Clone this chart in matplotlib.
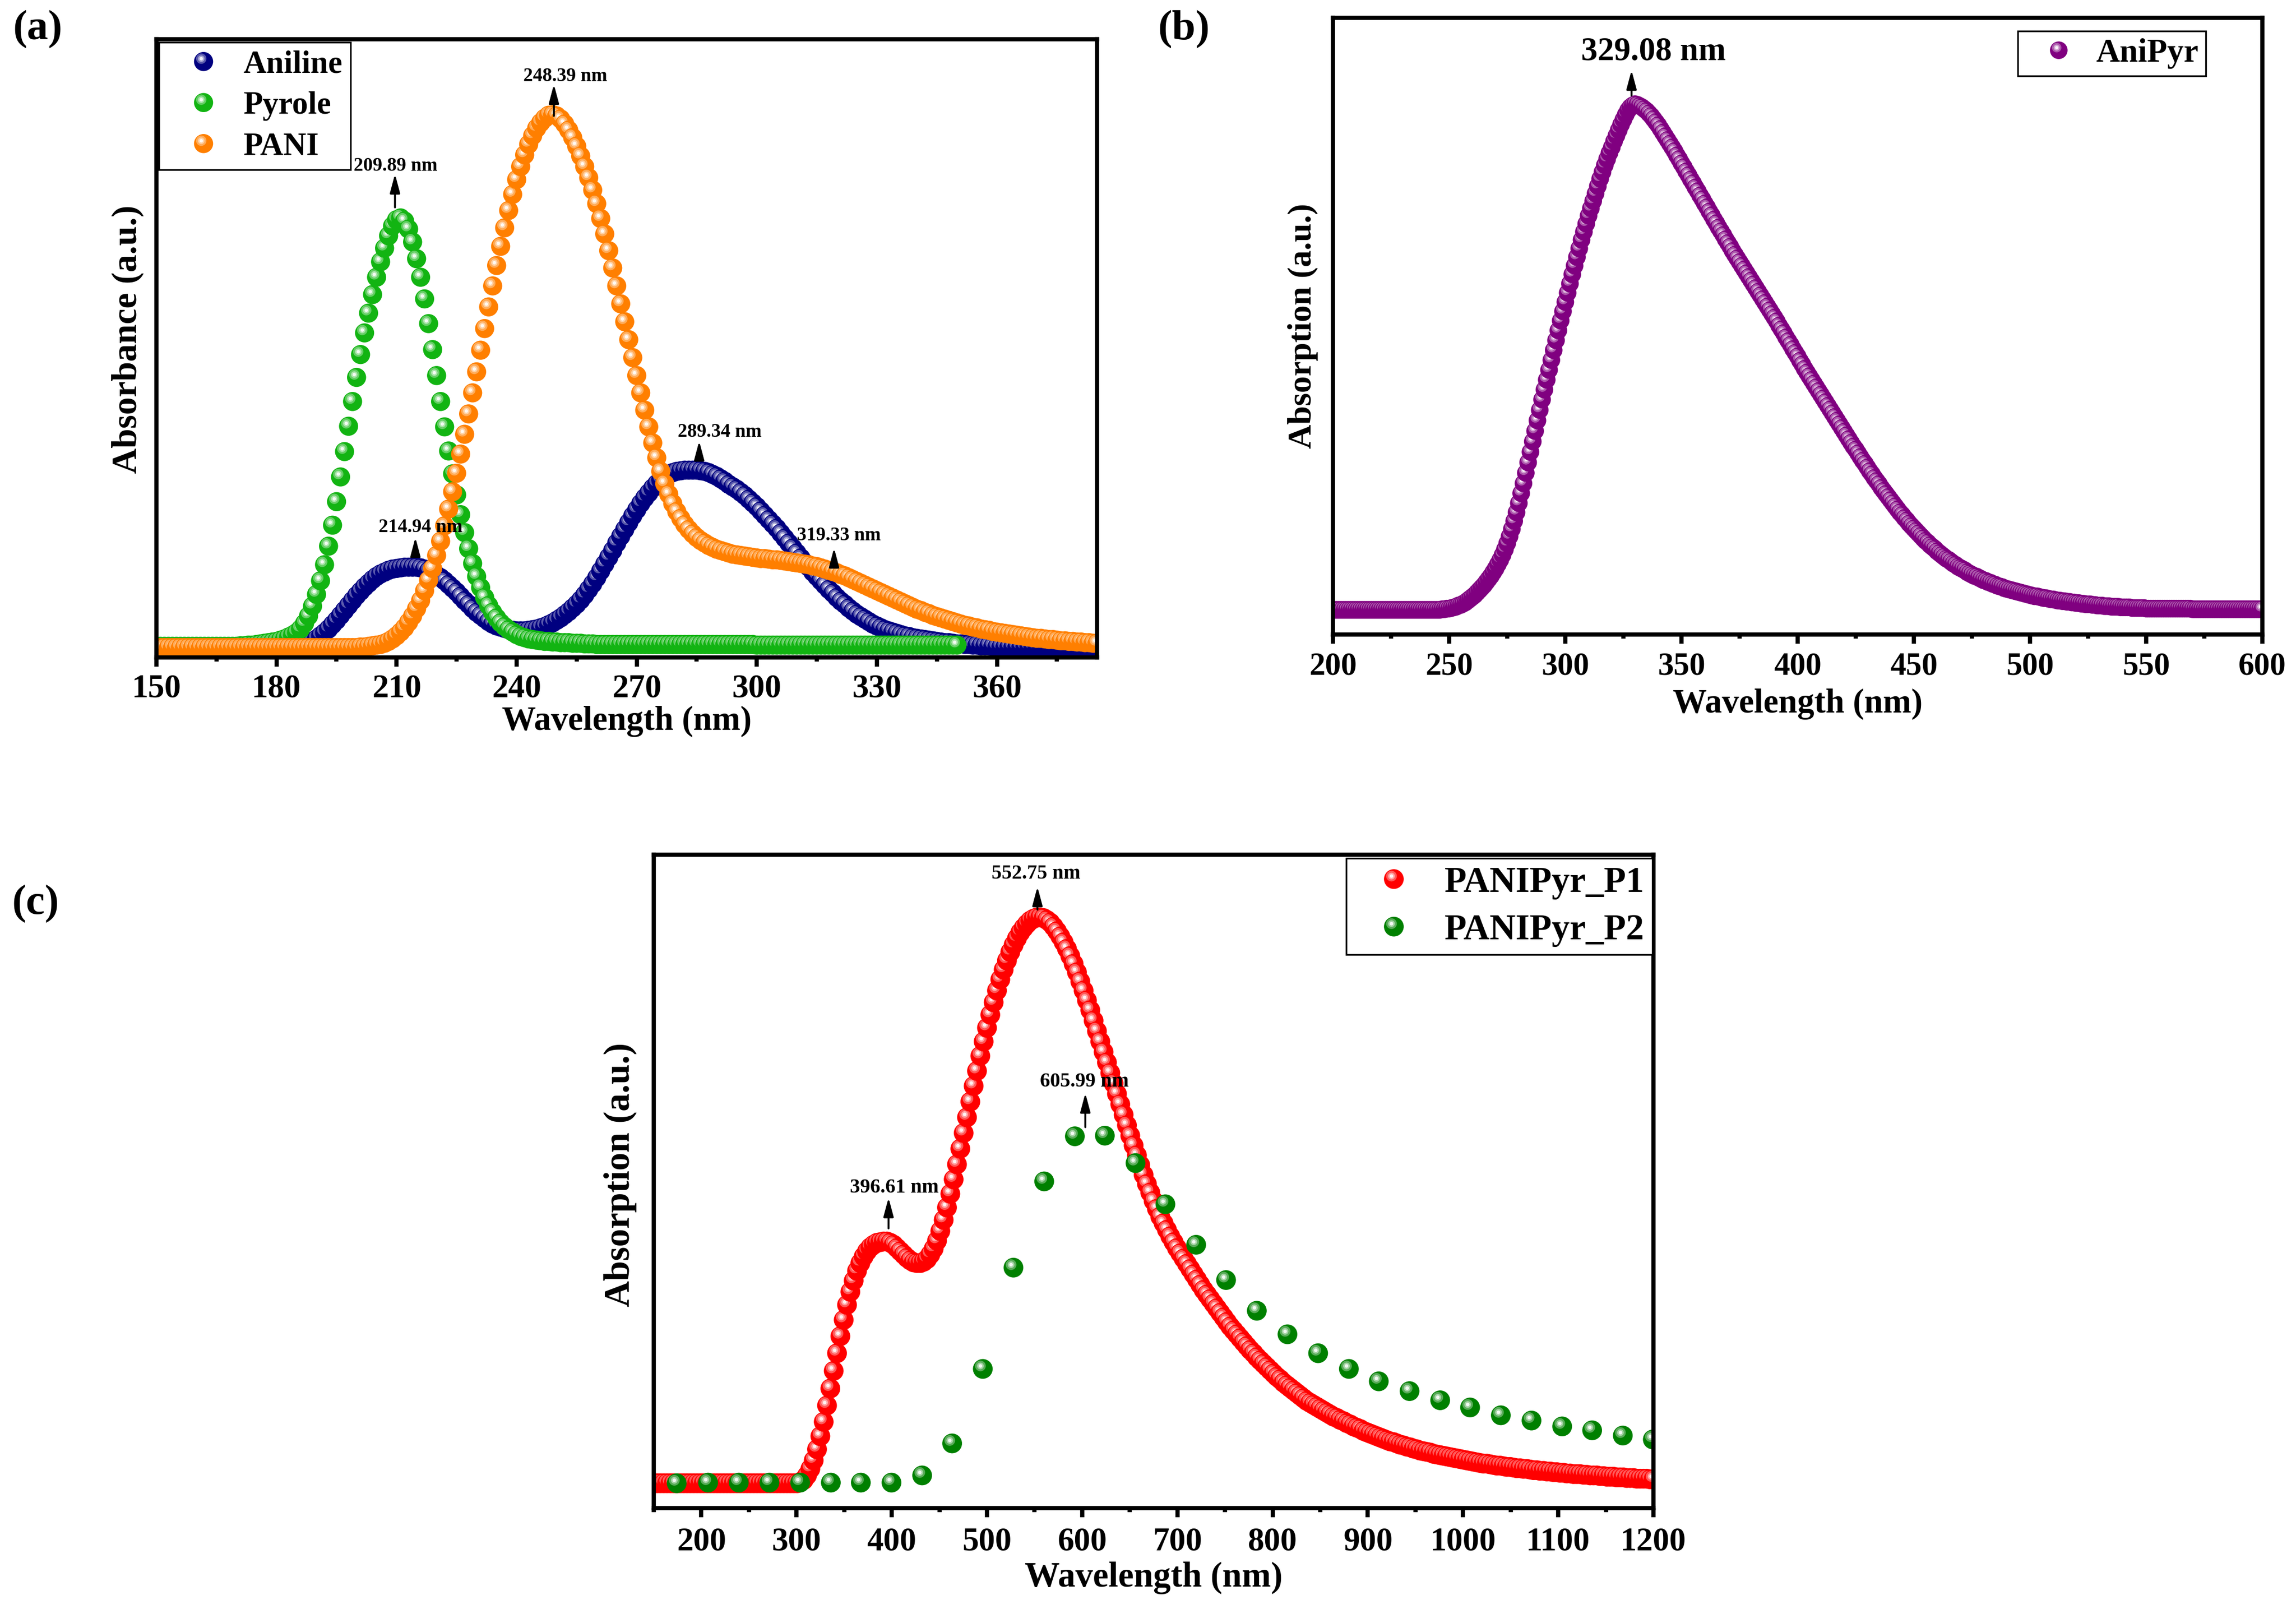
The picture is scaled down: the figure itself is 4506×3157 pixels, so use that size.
import numpy as np
import matplotlib
matplotlib.use('Agg')
import matplotlib.pyplot as plt
import matplotlib.colors as mcolors
from matplotlib.path import Path
from matplotlib.collections import PathCollection
from matplotlib.legend_handler import HandlerBase
from matplotlib.transforms import IdentityTransform
from matplotlib.ticker import MultipleLocator

plt.rcParams['font.family'] = ['Liberation Serif', 'DejaVu Serif']
plt.rcParams['font.weight'] = 'bold'
plt.rcParams['axes.labelweight'] = 'bold'

# ---------------- DATA (y as fraction of axis height) ----------------
# panel (a): 1 nm steps starting at 150 nm
a_start = 150
aniline = ([0.016] * 35 +
    [0.017, 0.018, 0.020, 0.023, 0.026] +
    [0.030, 0.035, 0.040, 0.046, 0.053, 0.060, 0.068, 0.076, 0.084, 0.092] +  # 190
    [0.100, 0.107, 0.114, 0.120, 0.126, 0.131, 0.135, 0.138, 0.141, 0.143] +  # 200
    [0.144, 0.145, 0.146, 0.146, 0.146, 0.146, 0.145, 0.143, 0.140, 0.137] +  # 210
    [0.133, 0.129, 0.124, 0.118, 0.112, 0.106, 0.099, 0.092, 0.086, 0.079] +  # 220
    [0.073, 0.068, 0.063, 0.058, 0.054, 0.051, 0.049, 0.047, 0.045, 0.044] +  # 230
    [0.043, 0.043, 0.043, 0.044, 0.045, 0.046, 0.048, 0.050, 0.053, 0.056] +  # 240
    [0.060, 0.064, 0.069, 0.074, 0.080, 0.086, 0.093, 0.101, 0.110, 0.119] +  # 250
    [0.129, 0.140, 0.151, 0.162, 0.173, 0.185, 0.196, 0.207, 0.218, 0.229] +  # 260
    [0.239, 0.249, 0.258, 0.266, 0.274, 0.281, 0.287, 0.292, 0.296, 0.299] +  # 270
    [0.301, 0.302, 0.303, 0.303, 0.303, 0.303, 0.302, 0.301, 0.299, 0.296] +  # 280
    [0.293, 0.289, 0.285, 0.280, 0.276, 0.272, 0.267, 0.262, 0.256, 0.250] +  # 290
    [0.244, 0.237, 0.230, 0.223, 0.216, 0.209, 0.201, 0.193, 0.185, 0.177] +  # 300
    [0.169, 0.161, 0.153, 0.146, 0.138, 0.131, 0.124, 0.117, 0.110, 0.104] +  # 310
    [0.097, 0.091, 0.086, 0.080, 0.075, 0.070, 0.066, 0.062, 0.058, 0.054] +  # 320
    [0.051, 0.048, 0.045, 0.043, 0.041, 0.039, 0.037, 0.035, 0.034, 0.032] +  # 330
    [0.031, 0.030, 0.029, 0.028, 0.027, 0.026, 0.025, 0.024, 0.024, 0.023] +  # 340
    [0.022, 0.022, 0.021, 0.021, 0.020, 0.020, 0.019, 0.019, 0.019, 0.018] +  # 350
    [0.017] * 26)

pyrole = ([0.018] * 20 +
    [0.018, 0.019, 0.019, 0.020, 0.020, 0.021, 0.022, 0.023, 0.024, 0.025] +  # 170
    [0.026, 0.028, 0.030, 0.033, 0.036, 0.040, 0.046, 0.055, 0.067, 0.083] +  # 180
    [0.102, 0.124, 0.150, 0.180, 0.214, 0.252, 0.292, 0.333, 0.374, 0.414] +  # 190
    [0.453, 0.490, 0.525, 0.557, 0.587, 0.615, 0.640, 0.662, 0.682, 0.698] +  # 200
    [0.708, 0.711, 0.706, 0.693, 0.672, 0.645, 0.615, 0.580, 0.540, 0.498] +  # 210
    [0.456, 0.414, 0.373, 0.334, 0.297, 0.263, 0.231, 0.202, 0.176, 0.152] +  # 220
    [0.131, 0.113, 0.097, 0.084, 0.073, 0.064, 0.056, 0.050, 0.045, 0.041] +  # 230
    [0.037, 0.034, 0.032, 0.030, 0.029, 0.028, 0.027, 0.026, 0.026, 0.025] +  # 240
    [0.025, 0.024, 0.024, 0.024, 0.023, 0.023, 0.023, 0.022, 0.022, 0.022] +  # 250
    [0.021] * 40 + [0.020] * 51)

pani = ([0.016] * 50 +
    [0.016, 0.017, 0.017, 0.018, 0.019, 0.020, 0.021, 0.023, 0.026, 0.030] +  # 200
    [0.035, 0.041, 0.048, 0.057, 0.067, 0.079, 0.092, 0.108, 0.125, 0.144] +  # 210
    [0.165, 0.188, 0.213, 0.240, 0.268, 0.298, 0.329, 0.361, 0.394, 0.428] +  # 220
    [0.462, 0.497, 0.532, 0.567, 0.601, 0.634, 0.665, 0.695, 0.723, 0.749] +  # 230
    [0.773, 0.794, 0.813, 0.830, 0.844, 0.856, 0.865, 0.872, 0.877, 0.878] +  # 240
    [0.876, 0.871, 0.863, 0.853, 0.841, 0.827, 0.811, 0.794, 0.776, 0.756] +  # 250
    [0.734, 0.710, 0.685, 0.658, 0.630, 0.601, 0.572, 0.543, 0.514, 0.485] +  # 260
    [0.456, 0.428, 0.400, 0.373, 0.347, 0.323, 0.301, 0.281, 0.264, 0.249] +  # 270
    [0.236, 0.225, 0.215, 0.207, 0.200, 0.194, 0.189, 0.185, 0.181, 0.178] +  # 280
    [0.175, 0.173, 0.171, 0.169, 0.167, 0.166, 0.165, 0.164, 0.163, 0.162] +  # 290
    [0.161, 0.160, 0.160, 0.159, 0.158, 0.158, 0.157, 0.156, 0.155, 0.154] +  # 300
    [0.153, 0.152, 0.151, 0.150, 0.148, 0.147, 0.145, 0.143, 0.141, 0.139] +  # 310
    [0.137, 0.134, 0.132, 0.129, 0.126, 0.123, 0.120, 0.117, 0.114, 0.111] +  # 320
    [0.108, 0.105, 0.102, 0.099, 0.096, 0.093, 0.090, 0.087, 0.084, 0.081] +  # 330
    [0.078, 0.076, 0.073, 0.071, 0.068, 0.066, 0.064, 0.062, 0.060, 0.058] +  # 340
    [0.056, 0.054, 0.052, 0.051, 0.049, 0.048, 0.046, 0.045, 0.044, 0.042] +  # 350
    [0.041, 0.040, 0.039, 0.038, 0.037, 0.036, 0.035, 0.034, 0.033, 0.032] +  # 360
    [0.031, 0.031, 0.030, 0.029, 0.029, 0.028, 0.027, 0.027, 0.026, 0.026] +  # 370
    [0.025, 0.025, 0.024, 0.024, 0.023, 0.023])

# panel (b): 1 nm steps starting at 200 nm
b_start = 200
anipyr = ([0.040] * 46 +
    [0.040, 0.041, 0.041, 0.042] +
    [0.042, 0.043, 0.044, 0.045, 0.047, 0.048, 0.050, 0.052, 0.055, 0.058] +  # 250
    [0.061, 0.064, 0.068, 0.072, 0.076, 0.080, 0.085, 0.090, 0.095, 0.101] +  # 260
    [0.107, 0.114, 0.121, 0.129, 0.138, 0.148, 0.159, 0.171, 0.184, 0.198] +  # 270
    [0.213, 0.229, 0.245, 0.262, 0.279, 0.296, 0.313, 0.330, 0.347, 0.364] +  # 280
    [0.381, 0.397, 0.413, 0.429, 0.445, 0.461, 0.477, 0.493, 0.509, 0.524] +  # 290
    [0.539, 0.554, 0.569, 0.584, 0.598, 0.612, 0.626, 0.640, 0.653, 0.666] +  # 300
    [0.679, 0.691, 0.703, 0.715, 0.727, 0.739, 0.750, 0.761, 0.771, 0.781] +  # 310
    [0.790, 0.800, 0.809, 0.818, 0.827, 0.835, 0.843, 0.850, 0.855, 0.858] +  # 320
    [0.860, 0.859, 0.857, 0.855, 0.852, 0.849, 0.845, 0.841, 0.836, 0.831] +  # 330
    [0.826, 0.820, 0.814, 0.808, 0.802, 0.796, 0.790, 0.784, 0.777, 0.771] +  # 340
    [0.764, 0.758, 0.751, 0.745, 0.738, 0.732, 0.725, 0.719, 0.712, 0.706] +  # 350
    [0.699, 0.693, 0.686, 0.680, 0.673, 0.667, 0.660, 0.654, 0.648, 0.641] +  # 360
    [0.635, 0.629, 0.622, 0.616, 0.610, 0.604, 0.598, 0.592, 0.586, 0.580] +  # 370
    [0.574, 0.568, 0.562, 0.556, 0.550, 0.544, 0.538, 0.532, 0.526, 0.520] +  # 380
    [0.514, 0.508, 0.501, 0.495, 0.489, 0.482, 0.476, 0.470, 0.463, 0.457] +  # 390
    [0.451, 0.444, 0.438, 0.431, 0.425, 0.419, 0.413, 0.407, 0.401, 0.395] +  # 400
    [0.389, 0.383, 0.377, 0.371, 0.365, 0.359, 0.353, 0.347, 0.341, 0.335] +  # 410
    [0.329, 0.323, 0.317, 0.311, 0.305, 0.300, 0.294, 0.288, 0.282, 0.277] +  # 420
    [0.271, 0.265, 0.260, 0.254, 0.249, 0.244, 0.238, 0.233, 0.228, 0.223] +  # 430
    [0.218, 0.213, 0.208, 0.203, 0.198, 0.194, 0.189, 0.185, 0.180, 0.176] +  # 440
    [0.172, 0.168, 0.164, 0.160, 0.156, 0.152, 0.149, 0.145, 0.142, 0.139] +  # 450
    [0.135, 0.132, 0.129, 0.126, 0.123, 0.121, 0.118, 0.115, 0.113, 0.110] +  # 460
    [0.108, 0.106, 0.104, 0.101, 0.099, 0.097, 0.095, 0.094, 0.092, 0.090] +  # 470
    [0.088, 0.087, 0.085, 0.084, 0.082, 0.081, 0.079, 0.078, 0.077, 0.075] +  # 480
    [0.074, 0.073, 0.072, 0.071, 0.070, 0.069, 0.068, 0.067, 0.066, 0.065] +  # 490
    [0.064, 0.063, 0.062, 0.062, 0.061, 0.060, 0.059, 0.059, 0.058, 0.057] +  # 500
    [0.057, 0.056, 0.055, 0.055, 0.054, 0.054, 0.053, 0.053, 0.052, 0.052] +  # 510
    [0.051, 0.051, 0.050, 0.050, 0.049, 0.049, 0.049, 0.048, 0.048, 0.047] +  # 520
    [0.047, 0.047, 0.046, 0.046, 0.046, 0.045, 0.045, 0.045, 0.045, 0.044] +  # 530
    [0.044, 0.044, 0.044, 0.044, 0.043, 0.043, 0.043, 0.043, 0.043, 0.043] +  # 540
    [0.042] * 20 + [0.041] * 31)

# panel (c): P1 in 3.5 nm steps starting at 150 nm, P2 as separate points
c_start, c_step = 150, 3.5
p1 = ([0.038] * 44 +
    [0.040, 0.043, 0.050, 0.060, 0.073, 0.090, 0.110, 0.132, 0.157, 0.183] +  # 304
    [0.210, 0.237, 0.263, 0.288, 0.311, 0.331, 0.348, 0.363, 0.375, 0.385] +  # 339
    [0.393, 0.399, 0.403, 0.406, 0.407, 0.408, 0.408, 0.406, 0.403, 0.398] +  # 374
    [0.393, 0.388, 0.383, 0.379, 0.376, 0.375, 0.375, 0.377, 0.381, 0.388] +  # 409
    [0.397, 0.409, 0.424, 0.441, 0.460, 0.481, 0.503, 0.526, 0.550, 0.574] +  # 444
    [0.598, 0.622, 0.646, 0.669, 0.692, 0.714, 0.735, 0.755, 0.774, 0.792] +  # 479
    [0.809, 0.824, 0.838, 0.851, 0.862, 0.872, 0.881, 0.888, 0.894, 0.899] +  # 514
    [0.902, 0.904, 0.904, 0.903, 0.900, 0.896, 0.890, 0.883, 0.875, 0.866] +  # 549
    [0.856, 0.845, 0.833, 0.820, 0.806, 0.792, 0.777, 0.762, 0.746, 0.730] +  # 584
    [0.714, 0.698, 0.682, 0.666, 0.650, 0.634, 0.618, 0.602, 0.586, 0.570] +  # 619
    [0.555, 0.540, 0.525, 0.510, 0.496, 0.483, 0.470, 0.458, 0.446, 0.436] +  # 654
    [0.426, 0.416, 0.407, 0.398, 0.390, 0.382, 0.374, 0.366, 0.358, 0.350] +  # 689
    [0.342, 0.334, 0.327, 0.320, 0.313, 0.306, 0.299, 0.292, 0.285, 0.278] +  # 724
    [0.272, 0.266, 0.260, 0.254, 0.248, 0.242, 0.237, 0.231, 0.226, 0.221] +  # 759
    [0.216, 0.211, 0.206, 0.201, 0.197, 0.192, 0.188, 0.184, 0.180, 0.176] +  # 794
    [0.172, 0.168, 0.164, 0.161, 0.158, 0.155, 0.152, 0.149, 0.146, 0.143] +  # 829
    [0.140, 0.138, 0.135, 0.133, 0.130, 0.128, 0.125, 0.123, 0.121, 0.118] +  # 864
    [0.116, 0.114, 0.112, 0.110, 0.108, 0.106, 0.104, 0.102, 0.101, 0.099] +  # 899
    [0.097, 0.096, 0.094, 0.093, 0.091, 0.090, 0.088, 0.087, 0.086, 0.085] +  # 934
    [0.083, 0.082, 0.081, 0.080, 0.079, 0.078, 0.077, 0.076, 0.075, 0.074] +  # 969
    [0.073, 0.072, 0.071, 0.070, 0.069, 0.068, 0.068, 0.067, 0.066, 0.065] +  # 1004
    [0.065, 0.064, 0.063, 0.063, 0.062, 0.061, 0.061, 0.060, 0.060, 0.059] +  # 1039
    [0.058, 0.058, 0.057, 0.057, 0.056, 0.056, 0.055, 0.055, 0.054, 0.054] +  # 1074
    [0.053, 0.053, 0.052, 0.052, 0.052, 0.051, 0.051, 0.050, 0.050, 0.050] +  # 1109
    [0.049, 0.049, 0.048, 0.048, 0.048, 0.047, 0.047, 0.047, 0.046, 0.046] +  # 1144
    [0.046, 0.045, 0.045, 0.045, 0.045, 0.044, 0.044])                        # 1179

p2_x = [142, 174.1, 207.1, 239.3, 271.5, 303.8, 336, 367.5, 399.7, 431.9, 463.4, 495.6,
        527.8, 560.1, 592.3, 623.8, 656, 687.4, 719.7, 751.1, 783.4, 815.6, 847.8, 880.1,
        911.5, 943.8, 976, 1007.4, 1039.7, 1071.9, 1104.1, 1135.6, 1167.8, 1199.3]
p2 = [0.038, 0.038, 0.039, 0.039, 0.039, 0.039, 0.039, 0.039, 0.039, 0.050, 0.099, 0.213,
      0.368, 0.500, 0.569, 0.570, 0.528, 0.465, 0.403, 0.349, 0.302, 0.266, 0.237, 0.213,
      0.194, 0.179, 0.165, 0.154, 0.142, 0.134, 0.125, 0.119, 0.111, 0.105]

# peak labels: (label, arrow x, arrow tail y, arrow head y, text x, text baseline y)
peaks_a = [('248.39 nm', 249.3, 0.876, 0.927, 252.2, 0.932),
           ('209.89 nm', 209.6, 0.728, 0.782, 209.7, 0.787),
           ('214.94 nm', 214.7, 0.166, 0.194, 216.0, 0.203),
           ('289.34 nm', 285.6, 0.326, 0.350, 290.7, 0.357),
           ('319.33 nm', 319.3, 0.157, 0.177, 320.5, 0.190)]
peaks_b = [('329.08 nm', 328.5, 0.874, 0.915, 338.0, 0.932)]
peaks_c = [('552.75 nm', 553.0, 0.916, 0.951, 551.4, 0.963),
           ('396.61 nm', 396.6, 0.428, 0.475, 402.8, 0.483),
           ('605.99 nm', 603.3, 0.583, 0.635, 602.5, 0.645)]

# ---------------- helpers for Origin-like shaded balls ----------------
HL = (-0.12, 0.15)
BALL_PATHS = [Path.circle((0, 0), 0.5), Path.circle(HL, 0.27),
              Path.circle(HL, 0.17), Path.circle(HL, 0.09)]


def ball_colors(color):
    c = np.array(mcolors.to_rgb(color))
    return [c, c + (1 - c) * 0.35, c + (1 - c) * 0.65, c + (1 - c) * 0.95]


def balls(ax, x, y, color, size):
    offs = np.repeat(np.column_stack([x, y]), len(BALL_PATHS), axis=0)
    pc = PathCollection(BALL_PATHS, sizes=[size ** 2], offsets=offs,
                        offset_transform=ax.transData, facecolors=ball_colors(color),
                        edgecolors='none', linewidths=0)
    pc.set_transform(IdentityTransform())
    ax.add_collection(pc, autolim=False)
    return pc


class BallHandler(HandlerBase):
    def create_artists(self, legend, orig_handle, xdescent, ydescent, width, height, fontsize, trans):
        pc = PathCollection(BALL_PATHS, sizes=orig_handle.get_sizes(),
                            offsets=[(width / 2 - xdescent, height / 2 - ydescent)] * len(BALL_PATHS),
                            offset_transform=trans, facecolors=orig_handle.get_facecolors(),
                            edgecolors='none', linewidths=0)
        pc.set_transform(IdentityTransform())
        return [pc]


def style(ax, xlim, major, minor, fs, pad=3):
    ax.set_xlim(*xlim)
    ax.set_ylim(0, 1)
    ax.set_yticks([])
    ax.xaxis.set_major_locator(MultipleLocator(major))
    ax.xaxis.set_minor_locator(MultipleLocator(minor))
    ax.tick_params(axis='x', which='major', direction='out', length=4.2, width=2, labelsize=fs, pad=pad)
    ax.tick_params(axis='x', which='minor', direction='out', length=2, width=2)
    for s in ax.spines.values():
        s.set_linewidth(2)


def mark(ax, peaks, fs):
    for lab, xa, y0, y1, xt, yt in peaks:
        ax.annotate('', xy=(xa, y1), xytext=(xa, y0),
                    arrowprops=dict(arrowstyle='-|>,head_length=0.75,head_width=0.2',
                                    color='black', lw=0.9, shrinkA=0, shrinkB=0))
        ax.text(xt, yt, lab, ha='center', va='baseline', fontsize=fs, fontweight='bold')


W, H = 4506, 3157
fig = plt.figure(figsize=(W / 300, H / 300), dpi=300)


def legend(ax, handles, labels, x0, y0, fs, **kw):
    leg = ax.legend(handles, labels, loc='upper left', bbox_to_anchor=(x0 / W, 1 - y0 / H),
                    bbox_transform=fig.transFigure, handler_map={PathCollection: BallHandler()},
                    prop={'weight': 'bold', 'size': fs}, fancybox=False, framealpha=1,
                    edgecolor='black', borderaxespad=0, **kw)
    leg.get_frame().set_linewidth(0.8)


# ---------------- (a) ----------------
ax_a = fig.add_axes([307 / W, 1 - 1290 / H, 1846 / W, 1213 / H])
h1 = balls(ax_a, a_start + np.arange(len(aniline)), aniline, '#000080', 9.0)
h2 = balls(ax_a, a_start + np.arange(len(pyrole)), pyrole, '#12b412', 9.0)
h3 = balls(ax_a, a_start + np.arange(len(pani)), pani, '#ff7f00', 9.0)
style(ax_a, (150, 385), 30, 15, 15.5, pad=3.3)
mark(ax_a, peaks_a, 9)
ax_a.set_xlabel('Wavelength (nm)', fontsize=16, labelpad=0.8)
ax_a.set_ylabel('Absorbance (a.u.)', fontsize=16.7, labelpad=4)
ax_a.yaxis.set_label_coords(-0.0135, 0.515)
legend(ax_a, [h1, h2, h3], ['Aniline', 'Pyrole', 'PANI'], 312, 83, 15,
       borderpad=0.25, handlelength=2.3, handletextpad=0.1, labelspacing=0.36)

# ---------------- (b) ----------------
ax_b = fig.add_axes([2616 / W, 1 - 1245 / H, 1824 / W, 1210 / H])
hb = balls(ax_b, b_start + np.arange(len(anipyr)), anipyr, '#800080', 8.3)
style(ax_b, (200, 600), 50, 25, 15, pad=4.2)
mark(ax_b, peaks_b, 15.5)
ax_b.set_xlabel('Wavelength (nm)', fontsize=16, labelpad=3)
ax_b.set_ylabel('Absorption (a.u.)', fontsize=15.8, labelpad=7)
legend(ax_b, [hb], ['AniPyr'], 3960, 61, 15.5,
       borderpad=0.22, handlelength=2.05, handletextpad=0.1)

# ---------------- (c) ----------------
ax_c = fig.add_axes([1283 / W, 1 - 2959 / H, 1962 / W, 1282 / H])
hc1 = balls(ax_c, c_start + c_step * np.arange(len(p1)), p1, '#ff0000', 9.3)
hc2 = balls(ax_c, p2_x, p2, '#008000', 9.3)
style(ax_c, (150, 1200), 100, 50, 15.5, pad=4.5)
mark(ax_c, peaks_c, 9.5)
ax_c.set_xlabel('Wavelength (nm)', fontsize=16.5, labelpad=2)
ax_c.set_ylabel('Absorption (a.u.)', fontsize=17, labelpad=5)
ax_c.yaxis.set_label_coords(-0.0167, 0.51)
legend(ax_c, [hc1, hc2], ['PANIPyr_P1', 'PANIPyr_P2'], 2642, 1684, 17,
       borderpad=0.22, handlelength=2.2, handletextpad=0.3, labelspacing=0.4)

# panel letters
fig.text(25 / W, 1 - 58 / H, '(a)', fontsize=20, fontweight='bold', va='center', ha='left')
fig.text(2272 / W, 1 - 58 / H, '(b)', fontsize=20, fontweight='bold', va='center', ha='left')
fig.text(23 / W, 1 - 1774 / H, '(c)', fontsize=20, fontweight='bold', va='center', ha='left')

fig.savefig('out.png', dpi=300)
